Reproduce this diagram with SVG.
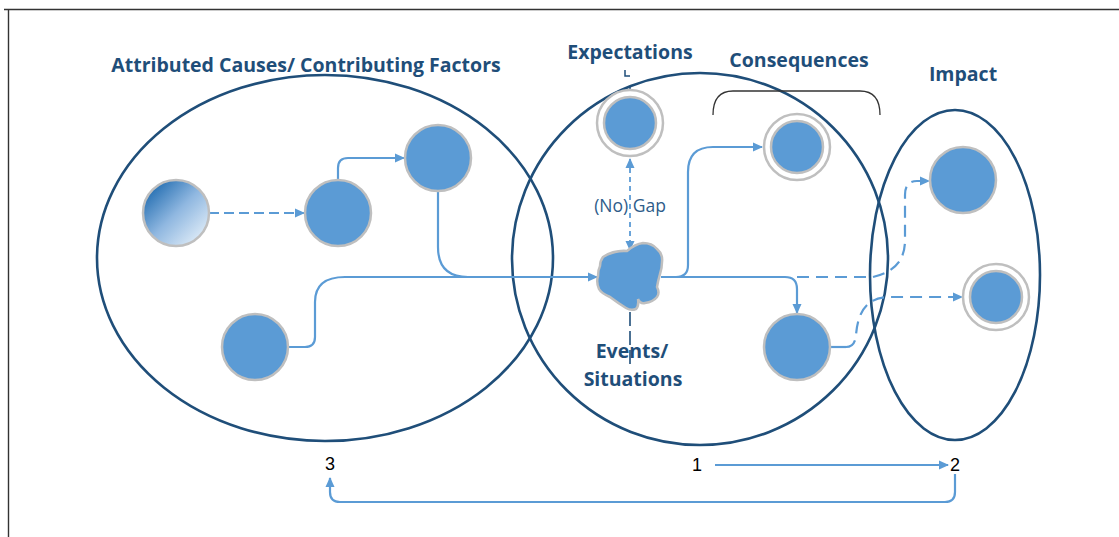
<svg xmlns="http://www.w3.org/2000/svg" width="1119" height="537" viewBox="0 0 1119 537">
<defs>
<style>
.frame{stroke:#333;stroke-width:1.4;fill:none}
.ell{fill:none;stroke:#1f4e79;stroke-width:2.6}
.node{fill:#5b9bd5;stroke:#bfbfbf;stroke-width:2.5}
.ring{fill:#fff;stroke:#bfbfbf;stroke-width:2.5}
.c{fill:none;stroke:#5b9bd5;stroke-width:2.2}
.d{fill:none;stroke:#5b9bd5;stroke-width:2.2;stroke-dasharray:12 7}
.ds{fill:none;stroke:#5b9bd5;stroke-width:1.8;stroke-dasharray:5 4}
.lbl{font-family:"Open Sans","Liberation Sans",sans-serif;font-weight:bold;font-size:19.5px;fill:#1f4e79;text-anchor:middle}
.gap{font-family:"Open Sans","Liberation Sans",sans-serif;font-size:17.5px;fill:#2e5c8a;text-anchor:middle}
.num{font-family:"Liberation Sans",sans-serif;font-size:18px;fill:#000;text-anchor:middle}
</style>
<marker id="ah" viewBox="0 0 10 10" refX="9" refY="5" markerWidth="10" markerHeight="10" markerUnits="userSpaceOnUse" orient="auto-start-reverse">
<path d="M0,0.5 L10,5 L0,9.5 Z" fill="#5b9bd5"/>
</marker>
<linearGradient id="grad" x1="0.15" y1="0.15" x2="0.85" y2="0.85">
<stop offset="0" stop-color="#2e75b6"/>
<stop offset="0.5" stop-color="#8fb7e0"/>
<stop offset="1" stop-color="#d6e6f5"/>
</linearGradient>
</defs>
<rect width="1119" height="537" fill="#fff"/>
<g id="frame">
<path class="frame" d="M4,9.5 H1119 M8.5,9 V537"/>
</g>
<g id="groups">
<ellipse id="causes-set" class="ell" cx="325" cy="258" rx="228" ry="183"/>
<ellipse id="events-set" class="ell" cx="700" cy="259" rx="188" ry="186"/>
<ellipse id="impact-set" class="ell" cx="955" cy="275" rx="85" ry="165"/>
<path d="M713,115 Q713,91 733,91 H860 Q880,91 880,115" fill="none" stroke="#333" stroke-width="1.3"/>
<path d="M625,70 V76 H630" fill="none" stroke="#1f4e79" stroke-width="1.5"/>
<path d="M630,86 V92" fill="none" stroke="#1f4e79" stroke-width="1.5"/>
</g>
<g id="connectors">
<path class="d" d="M209,213 H304" marker-end="url(#ah)" style="stroke-dasharray:10 5"/>
<path class="c" d="M338,180 V168 Q338,158 348,158 H404" marker-end="url(#ah)"/>
<path class="c" d="M438,191 V247 Q438,277 468,277"/>
<path class="c" d="M288,347 H305 Q315,347 315,337 V302 Q315,277 345,277 H597" marker-end="url(#ah)"/>
<path class="ds" d="M630,159 V250" marker-start="url(#ah)" marker-end="url(#ah)"/>
<path d="M630,312 V368" fill="none" stroke="#1f4e79" stroke-width="1.6" stroke-dasharray="14 5"/>
<path class="c" d="M661,277 H676 Q688,277 688,265 V172 Q688,147 713,147 H762" marker-end="url(#ah)"/>
<path class="c" d="M661,277 H785 Q797,277 797,289 V313" marker-end="url(#ah)"/>
<path class="d" d="M797,277 H873 C893,272 905,262 905,240 V195 Q905,181 917,181 H929" marker-end="url(#ah)"/>
<path class="c" d="M830,347 H846"/>
<path class="d" d="M846,347 Q855,347 856,335 C858,310 868,297 890,297 H962" marker-end="url(#ah)"/>
<path class="c" d="M715,465 H948" marker-end="url(#ah)"/>
<path class="c" d="M955,474 V492 Q955,502 945,502 H340 Q330,502 330,492 V478" marker-end="url(#ah)"/>
</g>
<g id="node-root-cause">
<circle cx="176" cy="213" r="33" fill="url(#grad)" stroke="#bfbfbf" stroke-width="2.5"/>
</g>
<g id="node-cause-a"><circle class="node" cx="338" cy="213" r="33"/></g>
<g id="node-cause-b"><circle class="node" cx="438" cy="158" r="33"/></g>
<g id="node-cause-c"><circle class="node" cx="255" cy="347" r="33"/></g>
<g id="node-expectation">
<circle class="ring" cx="630" cy="123" r="33"/>
<circle class="node" cx="630" cy="123" r="26"/>
</g>
<g id="node-event">
<path class="node" d="M603,257 Q614,250 627,251 Q635,244 643,243 Q652,243 657,249 Q663,254 662,262 Q662,268 660,274 Q658,281 657,287 Q660,293 657,297 Q653,302 645,303 Q640,304 638,299 Q639,306 636,309 Q631,311 626,308 Q618,303 610,297 Q601,293 599,289 Q596,282 598,276 Q598,270 600,266 Q600,261 603,257 Z"/>
</g>
<g id="node-consequence-1">
<circle class="ring" cx="797" cy="147" r="33"/>
<circle class="node" cx="797" cy="147" r="26"/>
</g>
<g id="node-consequence-2"><circle class="node" cx="797" cy="347" r="33"/></g>
<g id="node-impact-1"><circle class="node" cx="963" cy="180" r="33"/></g>
<g id="node-impact-2">
<circle class="ring" cx="996" cy="297" r="33"/>
<circle class="node" cx="996" cy="297" r="26"/>
</g>
<g id="labels">
<text class="lbl" x="306" y="72">Attributed Causes/ Contributing Factors</text>
<text class="lbl" x="630" y="59">Expectations</text>
<text class="lbl" x="799" y="67">Consequences</text>
<text class="lbl" x="963" y="81">Impact</text>
<text class="lbl" x="632" y="358">Events/</text>
<text class="lbl" x="633" y="386">Situations</text>
<text class="gap" x="630" y="212">(No) Gap</text>
<text class="num" x="330" y="470">3</text>
<text class="num" x="697" y="471">1</text>
<text class="num" x="955" y="471">2</text>
</g>
</svg>
